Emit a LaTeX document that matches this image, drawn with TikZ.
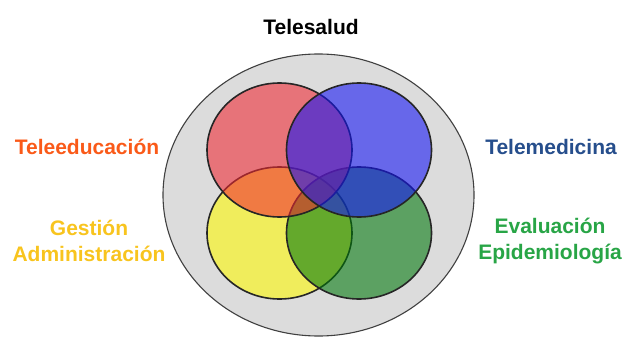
\documentclass[tikz,border=0pt]{standalone}
\usepackage{fontspec}
\setmainfont{Liberation Sans}
\begin{document}
\begin{tikzpicture}[x=1pt,y=-1pt,
  ring/.style={draw=black!85,line width=1.6pt,fill opacity=0.58},
  lbl/.style={font=\bfseries\fontsize{21}{26}\selectfont,align=center,inner sep=0pt}]
\definecolor{cred}{RGB}{240,40,50}
\definecolor{cblue}{RGB}{20,20,245}
\definecolor{cyellow}{RGB}{255,250,0}
\definecolor{cgreen}{RGB}{0,120,10}
\definecolor{tOrange}{RGB}{250,90,25}
\definecolor{tGold}{RGB}{248,196,30}
\definecolor{tBlue}{RGB}{38,78,140}
\definecolor{tGreen}{RGB}{40,165,70}
\useasboundingbox (0,0) rectangle (626,337);
% outer field
\draw[fill={rgb,255:red,220;green,220;blue,220},draw=black!75,line width=1.1pt]
  (318.5,195) ellipse [x radius=155.5,y radius=141];
% four overlapping areas: lower pair first, upper pair on top
\path[ring,fill=cyellow] (279.5,233) ellipse [x radius=72.5,y radius=66];
\path[ring,fill=cgreen]  (359,233)   ellipse [x radius=72.5,y radius=66];
\path[ring,fill=cred]    (279.5,150) ellipse [x radius=72.5,y radius=67];
\path[ring,fill=cblue]   (359,150)   ellipse [x radius=72.5,y radius=67];
% labels
\node[lbl,text=black] (tit) at (311,27) {Telesalud};
\node[lbl,text=tOrange] (edu) at (87,147) {Teleeducación};
\node[lbl,text=tGold] (ges) at (89,241) {Gestión\\Administración};
\node[lbl,text=tBlue] (med) at (551,147) {Telemedicina};
\node[lbl,text=tGreen] (eva) at (550,241) {Evaluación\\Epidemiología};
\end{tikzpicture}
\end{document}
